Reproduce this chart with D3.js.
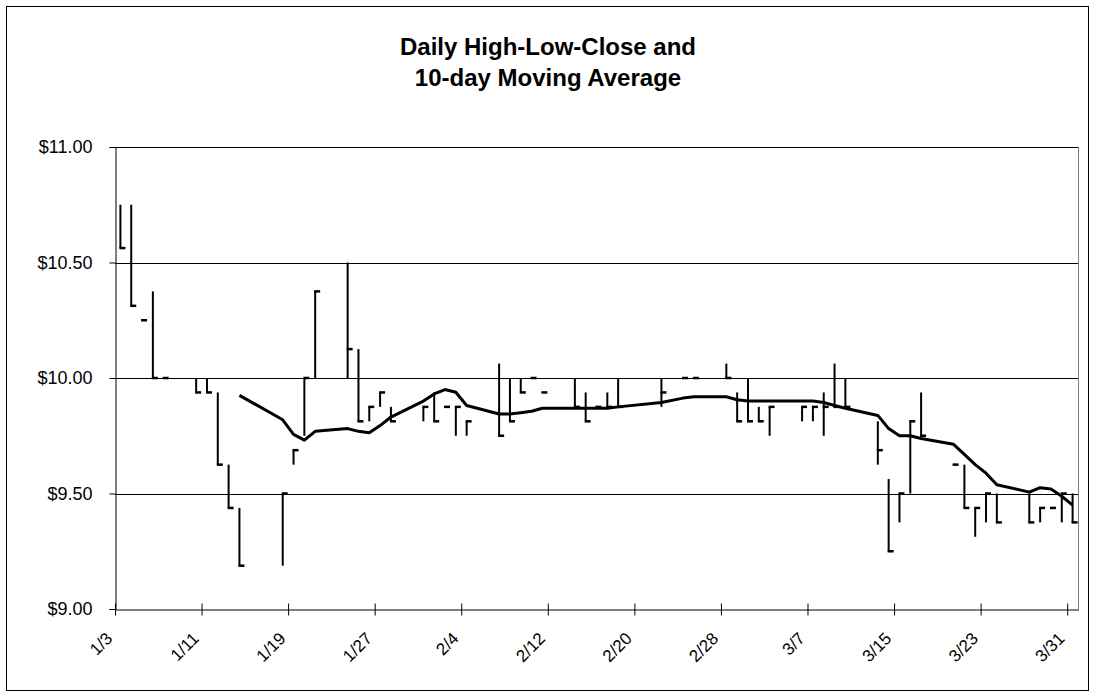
<!DOCTYPE html>
<html>
<head>
<meta charset="utf-8">
<script src="https://cdn.jsdelivr.net/npm/d3@7"></script>
<style>
  html, body { margin: 0; padding: 0; background: #fff; }
  svg { display: block; font-family: Arial, "Liberation Sans", sans-serif; }
</style>
</head>
<body>
<svg id="chart" width="1095" height="700"></svg>
<script>
// ---- data ----
const tradeDates = ["1/3","1/4","1/5","1/6","1/7","1/10","1/11","1/12","1/13","1/14",
  "1/18","1/19","1/20","1/21","1/24","1/25","1/26","1/27","1/28","1/31",
  "2/1","2/2","2/3","2/4","2/7","2/8","2/9","2/10","2/11","2/14","2/15","2/16","2/17","2/18",
  "2/22","2/24","2/25","2/28","2/29",
  "3/1","3/2","3/3","3/6","3/7","3/8","3/9","3/10","3/13","3/14","3/15","3/16","3/17",
  "3/20","3/21","3/22","3/23","3/24","3/27","3/28","3/29","3/30","3/31"];
const highs = [10.75,10.75,10.25,10.375,10.00, 10.00,10.00,9.9375,9.625,9.4375,
  9.50,9.6875,10.00,10.375, 10.50,10.125,9.875,9.9375,9.875, 9.875,
  9.9375,9.875,9.875,9.8125, 10.0625,10.00,10.00,10.00,9.9375, 10.00,9.9375,9.875,9.9375,10.00,
  10.00,10.00,10.00, 10.0625,9.9375,
  10.00,9.875,9.875, 9.875,9.875,9.9375,10.0625,10.00, 9.8125,9.5625,9.50,9.8125,9.9375,
  9.625,9.625,9.4375,9.50,9.50, 9.50,9.4375,9.4375,9.50,9.50];
const lows = [10.5625,10.3125,10.25,10.00,10.00, 9.9375,9.9375,9.625,9.4375,9.1875,
  9.1875,9.625,9.75,10.00, 10.00,9.8125,9.8125,9.875,9.8125, 9.8125,
  9.8125,9.875,9.75,9.75, 9.75,9.8125,9.9375,10.00,9.9375, 9.875,9.8125,9.875,9.875,9.875,
  9.875,10.00,10.00, 10.00,9.8125,
  9.8125,9.8125,9.75, 9.8125,9.8125,9.75,9.875,9.875, 9.625,9.25,9.375,9.50,9.75,
  9.625,9.4375,9.3125,9.375,9.375, 9.375,9.375,9.4375,9.375,9.375];
const closes = [10.5625,10.3125,10.25,10.00,10.00, 9.9375,9.9375,9.625,9.4375,9.1875,
  9.50,9.6875,10.00,10.375, 10.125,9.8125,9.875,9.9375,9.8125, 9.875,
  9.8125,9.875,9.875,9.8125, 9.75,9.8125,9.9375,10.00,9.9375, 9.875,9.8125,9.875,9.875,9.875,
  9.9375,10.00,10.00, 10.00,9.8125,
  9.8125,9.8125,9.875, 9.875,9.875,9.875,9.875,9.875, 9.6875,9.25,9.50,9.8125,9.75,
  9.625,9.4375,9.4375,9.50,9.375, 9.375,9.4375,9.4375,9.50,9.375];
// 10-day moving average, plotted from the 10th trading day (1/14) onward
const maDates = tradeDates.slice(9);
const maValues = [9.925,9.819,9.756,9.731,9.769,9.781,9.769,9.763,9.794,9.831,9.900,
  9.931,9.950,9.938,9.881,9.844,9.844,9.850,9.856,9.869,9.869,9.869,9.869,9.869,9.875,
  9.894,9.913,9.919,9.919,9.906,
  9.900,9.900,9.900,9.900,9.900,9.894,9.881,9.869,9.838,9.781,9.750,9.750,9.738,
  9.713,9.669,9.625,9.588,9.538,9.506,9.525,9.519,9.488,9.450];
const xTickLabels = ["1/3","1/11","1/19","1/27","2/4","2/12","2/20","2/28","3/7","3/15","3/23","3/31"];
const yTickValues = [9.00, 9.50, 10.00, 10.50, 11.00];
const titleLines = ["Daily High-Low-Close and", "10-day Moving Average"];
const domainStart = "1/3", domainEnd = "4/1", year = "2000";

// ---- drawing ----
const FONT = "Arial, 'Liberation Sans', sans-serif";
const parse = d3.utcParse("%m/%d/%Y");
const toDate = s => parse(s + "/" + year);
const svg = d3.select("#chart");
const W = 1095, H = 700;
const plot = { left: 115, right: 1078, top: 147, bottom: 609 };

svg.append("rect").attr("x", 6.5).attr("y", 6.5).attr("width", W - 13).attr("height", H - 16)
  .attr("fill", "#fff").attr("stroke", "#000").attr("stroke-width", 1);

const x = d3.scaleUtc().domain([toDate(domainStart), toDate(domainEnd)]).range([plot.left, plot.right]);
const y = d3.scaleLinear().domain([9, 11]).range([plot.bottom, plot.top]);
const halfDay = d => d3.utcHour.offset(d, 12);

// gridlines
svg.append("g").selectAll("line").data(yTickValues.filter(v => v > 9)).join("line")
  .attr("x1", plot.left).attr("x2", plot.right)
  .attr("y1", d => Math.round(y(d)) + 0.5).attr("y2", d => Math.round(y(d)) + 0.5)
  .attr("stroke", "#000").attr("stroke-width", 1);

// plot border (right side)
svg.append("line").attr("x1", plot.right + 0.5).attr("x2", plot.right + 0.5)
  .attr("y1", plot.top).attr("y2", plot.bottom).attr("stroke", "#808080").attr("stroke-width", 1);

// y axis
const yAxis = d3.axisLeft(y).tickValues(yTickValues).tickFormat(d3.format("$.2f")).tickSize(6).tickPadding(17);
const gy = svg.append("g").attr("transform", `translate(${plot.left + 0.5},0)`).call(yAxis);
gy.select(".domain").attr("stroke", "#000");
gy.selectAll(".tick line").attr("stroke", "#000");
gy.selectAll(".tick text").attr("font-size", 18).attr("fill", "#000").attr("font-family", FONT);

// x axis
const xAxis = d3.axisBottom(x).tickValues(xTickLabels.map(toDate)).tickFormat((d, i) => xTickLabels[i]).tickSizeInner(6).tickSizeOuter(0);
const gx = svg.append("g").attr("transform", `translate(0,${plot.bottom + 0.5})`).call(xAxis);
gx.select(".domain").attr("stroke", "#000").attr("d", `M${plot.left},0.5H${plot.right + 1}`);
gx.selectAll(".tick line").attr("stroke", "#000").attr("y1", -6).attr("y2", 6);
gx.selectAll(".tick text")
  .attr("font-size", 17).attr("fill", "#000").attr("font-family", FONT)
  .attr("text-anchor", "end")
  .attr("dy", null).attr("y", 0)
  .attr("transform", "translate(-2,30) rotate(-45)");

// high-low lines
const data = tradeDates.map((d, i) => ({ date: toDate(d), high: highs[i], low: lows[i], close: closes[i] }));
const bars = svg.append("g");
bars.selectAll("line.hl").data(data.filter(d => d.high > d.low)).join("line")
  .attr("class", "hl")
  .attr("x1", d => x(halfDay(d.date))).attr("x2", d => x(halfDay(d.date)))
  .attr("y1", d => y(d.high)).attr("y2", d => y(d.low))
  .attr("stroke", "#000").attr("stroke-width", 2);
// close ticks
bars.selectAll("line.cl").data(data).join("line")
  .attr("class", "cl")
  .attr("x1", d => x(halfDay(d.date)) - 1).attr("x2", d => x(halfDay(d.date)) + 5)
  .attr("y1", d => y(d.close)).attr("y2", d => y(d.close))
  .attr("stroke", "#000").attr("stroke-width", 2.5);

// moving average
const ma = maDates.map((d, i) => ({ date: toDate(d), v: maValues[i] }));
svg.append("path").datum(ma)
  .attr("d", d3.line().x(d => x(halfDay(d.date))).y(d => y(d.v)))
  .attr("fill", "none").attr("stroke", "#000").attr("stroke-width", 3).attr("stroke-linejoin", "round");

// title
svg.append("text").attr("text-anchor", "middle")
  .attr("font-size", 24).attr("font-weight", "bold").attr("font-family", FONT)
  .selectAll("tspan").data(titleLines).join("tspan")
  .attr("x", 548).attr("y", (d, i) => 55 + i * 31).text(d => d);
</script>
</body>
</html>
